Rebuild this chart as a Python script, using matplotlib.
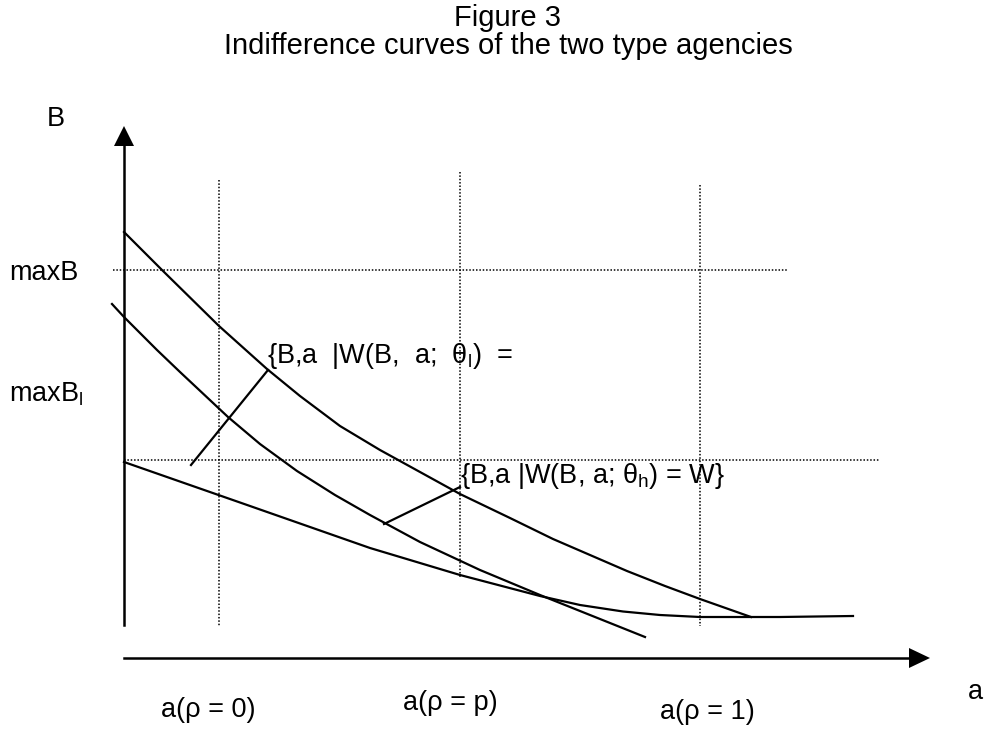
import matplotlib
matplotlib.use('Agg')
import matplotlib.pyplot as plt

plt.rcParams['font.family'] = ['Liberation Sans', 'DejaVu Sans']

# --- data (drawing units = pixels of the 986x729 sheet, y grows downward) ---
upper_x = [124, 162, 219, 267, 300, 340, 380, 420, 460, 510, 553, 590, 627, 665, 700, 751]
upper_y = [232, 270, 326, 369, 396, 426, 450, 472, 494, 518, 539, 555, 571, 586, 599, 617]

middle_x = [112, 124, 157, 180, 228, 260, 297, 335, 370, 420, 480, 540, 645]
middle_y = [304, 317, 350, 372, 417, 444, 471, 495, 515, 542, 570, 595, 637]

lower_x = [124, 250, 370, 460, 540, 580, 623, 660, 700, 780, 853]
lower_y = [462, 506, 548, 575, 596, 605, 611.5, 615, 617, 617, 616]

# dotted guide lines
vguide_x = [219, 460, 700]
vguide_top = [180, 172, 185]
vguide_bottom = [626, 578, 626]
hguide_y = [270, 460]
hguide_left = [113, 124]
hguide_right = [787, 880]

# connectors from labels to curves
conn1_x, conn1_y = [191, 268], [465, 370]
conn2_x, conn2_y = [384, 460], [524, 487]

tick_labels = ['a(ρ = 0)', 'a(ρ = p)', 'a(ρ = 1)']
tick_x = [208, 450, 707]
tick_y = [710, 703, 712]

FS = 19.5

fig = plt.figure(figsize=(9.86, 7.29), dpi=100)
ax = fig.add_axes([0, 0, 1, 1])
ax.set_xlim(0, 986)
ax.set_ylim(729, 0)
ax.axis('off')

# guide lines
for x, t, b in zip(vguide_x, vguide_top, vguide_bottom):
    ax.plot([x, x], [t, b], color='black', lw=1.1, ls=(0, (1, 1.2)))
for y, l, r in zip(hguide_y, hguide_left, hguide_right):
    ax.plot([l, r], [y, y], color='black', lw=1.1, ls=(0, (1, 1.2)))

# curves
for xs, ys in [(upper_x, upper_y), (middle_x, middle_y), (lower_x, lower_y)]:
    ax.plot(xs, ys, color='black', lw=1.6, solid_joinstyle='round')

ax.plot(conn1_x, conn1_y, color='black', lw=1.6)
ax.plot(conn2_x, conn2_y, color='black', lw=1.6)

# axes with arrow heads
ax.plot([124, 124], [625, 146], color='black', lw=1.8)
ax.fill([114, 134, 124], [146, 146, 126], color='black', lw=0)
ax.plot([124, 909], [658, 658], color='black', lw=1.8)
ax.fill([909, 909, 930], [648, 668, 658], color='black', lw=0)

# texts
ax.text(508, 26, 'Figure 3', ha='center', va='baseline', fontsize=21)
ax.text(508, 54, 'Indifference curves of the two type agencies', ha='center', va='baseline', fontsize=21)
ax.text(56, 119, 'B', ha='center', va='center', fontsize=FS)
ax.text(975, 692, 'a', ha='center', va='center', fontsize=FS)
ax.text(9, 280, 'maxB', ha='left', va='baseline', fontsize=FS)
ax.text(9, 401, r'maxB$_\mathregular{l}$', ha='left', va='baseline', fontsize=FS)

ax.text(267, 363, r'{B,a  |W(B,  a;  θ$_\mathregular{l}$)  =', ha='left', va='baseline', fontsize=FS)
ax.text(460, 483, r'{B,a |W(B, a; θ$_\mathregular{h}$) = W}', ha='left', va='baseline', fontsize=FS)

for lab, x, y in zip(tick_labels, tick_x, tick_y):
    ax.text(x, y, lab, ha='center', va='center', fontsize=FS)

fig.savefig('out.png', dpi=100)
